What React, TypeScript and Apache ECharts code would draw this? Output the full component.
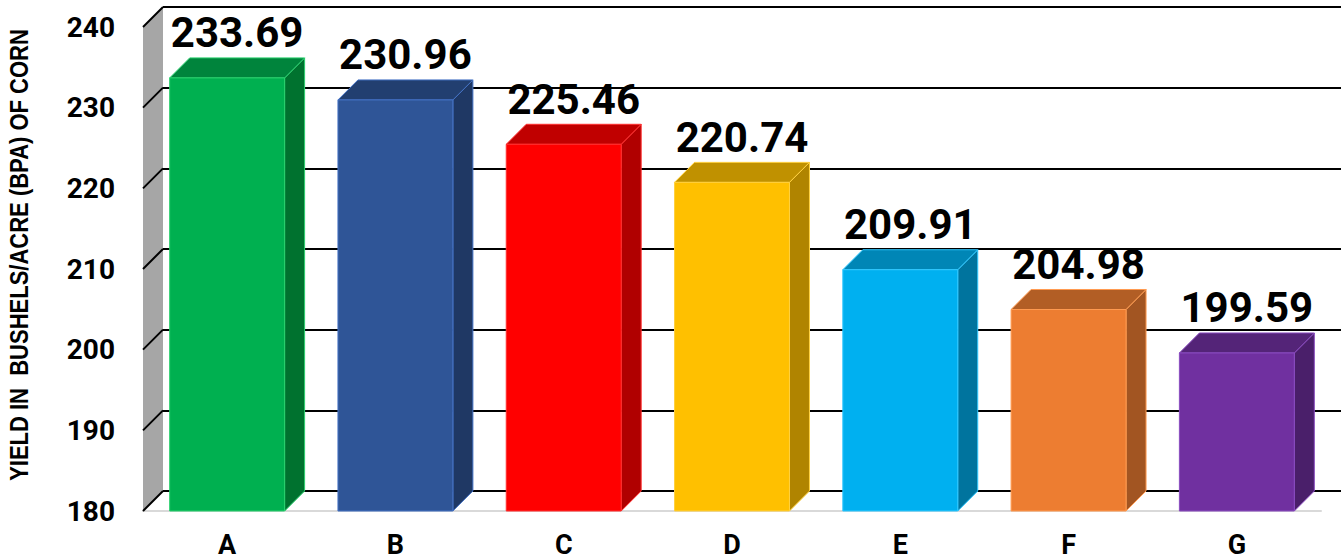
import React, { useEffect, useRef } from "react";
import * as echarts from "echarts";

const categories = ["A", "B", "C", "D", "E", "F", "G"];
const yields = [233.69, 230.96, 225.46, 220.74, 209.91, 204.98, 199.59];
const yTicks = [180, 190, 200, 210, 220, 230, 240];
const frontColors = ["#00B050", "#2F5597", "#FF0000", "#FFC000", "#00B0F0", "#ED7D31", "#7030A0"];
const topColors = ["#00843C", "#223F70", "#C00000", "#C09100", "#0086B6", "#B25E25", "#542478"];
const sideColors = ["#00722F", "#1F3864", "#B00000", "#B08400", "#00749E", "#A25522", "#4A1F6A"];
const edgeColors = ["#2BD06F", "#4472C4", "#FF3030", "#FFD040", "#30C8FF", "#FF9A50", "#8A4CC0"];
const axisTitle = "YIELD IN  BUSHELS/ACRE (BPA) OF CORN";

const Y_MIN = 180;
const Y_MAX = 240;
const DEPTH = 20;

export default function App() {
  const ref = useRef<HTMLDivElement>(null);

  useEffect(() => {
    if (!ref.current) return;
    const chart = echarts.init(ref.current, null, { renderer: "svg" });

    const option: any = {
      animation: false,
      backgroundColor: "#ffffff",
      grid: [
        { left: 143, right: 20, top: 27, bottom: 49 },
        { left: 143 + DEPTH, right: 0, top: 27 - DEPTH, bottom: 49 + DEPTH },
      ],
      xAxis: [
        {
          type: "category",
          gridIndex: 0,
          data: categories,
          axisTick: { show: false },
          axisLine: { show: true, lineStyle: { color: "#D9D9D9", width: 2 } },
          axisLabel: {
            margin: 20,
            color: "#000",
            fontFamily: "Roboto",
            fontWeight: "bold",
            fontSize: 27,
          },
          z: 1,
        },
        {
          type: "category",
          gridIndex: 1,
          data: categories,
          show: false,
        },
      ],
      yAxis: [
        {
          type: "value",
          gridIndex: 0,
          min: Y_MIN,
          max: Y_MAX,
          interval: 10,
          axisLine: { show: false },
          axisTick: { show: false },
          splitLine: { show: false },
          axisLabel: {
            margin: 28,
            color: "#000",
            fontFamily: "Roboto",
            fontWeight: "bold",
            fontSize: 28,
          },
        },
        {
          type: "value",
          gridIndex: 1,
          min: Y_MIN,
          max: Y_MAX,
          interval: 10,
          axisLine: { show: false },
          axisTick: { show: false },
          axisLabel: { show: false },
          splitLine: { show: true, lineStyle: { color: "#000", width: 2 } },
        },
      ],
      graphic: [
        {
          type: "text",
          x: 20,
          y: 255,
          rotation: Math.PI / 2,
          scaleY: 1.13,
          style: {
            text: axisTitle,
            align: "center",
            verticalAlign: "middle",
            fill: "#000",
            fontFamily: "Liberation Sans",
            fontWeight: "bold",
            fontSize: 22,
          },
        },
      ],
      series: [
        {
          type: "custom",
          xAxisIndex: 0,
          yAxisIndex: 0,
          z: 1,
          silent: true,
          data: [[0, Y_MAX]],
          renderItem: (params: any, api: any) => {
            const cs = params.coordSys;
            const top = api.coord([0, Y_MAX])[1];
            const bottom = api.coord([0, Y_MIN])[1];
            const x0 = cs.x;
            return {
              type: "polygon",
              shape: {
                points: [
                  [x0, top],
                  [x0 + DEPTH, top - DEPTH],
                  [x0 + DEPTH, bottom - DEPTH],
                  [x0, bottom],
                ],
              },
              style: { fill: "#A6A6A6", stroke: "none" },
            };
          },
        },
        {
          type: "custom",
          xAxisIndex: 0,
          yAxisIndex: 0,
          z: 2,
          silent: true,
          data: yTicks.map((t) => [0, t]),
          renderItem: (params: any, api: any) => {
            const cs = params.coordSys;
            const y = api.coord([0, api.value(1)])[1];
            return {
              type: "line",
              shape: { x1: cs.x, y1: y, x2: cs.x + DEPTH, y2: y - DEPTH },
              style: { stroke: "#000", lineWidth: 2 },
            };
          },
        },
        {
          type: "custom",
          xAxisIndex: 0,
          yAxisIndex: 0,
          z: 3,
          silent: true,
          data: yields.map((v, i) => [i, v]),
          renderItem: (params: any, api: any) => {
            const i = params.dataIndex;
            const v = api.value(1);
            const p = api.coord([api.value(0), v]);
            const base = api.coord([api.value(0), Y_MIN])[1];
            const band = api.size([1, 0])[0];
            const w = band * 0.683;
            const cx = p[0];
            const ty = p[1];
            const xl = cx - w / 2;
            const xr = cx + w / 2;
            const d = DEPTH;
            return {
              type: "group",
              children: [
                {
                  type: "polygon",
                  shape: {
                    points: [
                      [xr, ty],
                      [xr + d, ty - d],
                      [xr + d, base - d],
                      [xr, base],
                    ],
                  },
                  style: { fill: sideColors[i], stroke: edgeColors[i], lineWidth: 1 },
                },
                {
                  type: "polygon",
                  shape: {
                    points: [
                      [xl, ty],
                      [xl + d, ty - d],
                      [xr + d, ty - d],
                      [xr, ty],
                    ],
                  },
                  style: { fill: topColors[i], stroke: edgeColors[i], lineWidth: 1 },
                },
                {
                  type: "rect",
                  shape: { x: xl, y: ty, width: w, height: base - ty },
                  style: { fill: frontColors[i], stroke: edgeColors[i], lineWidth: 1 },
                },
                {
                  type: "text",
                  style: {
                    text: v.toFixed(2),
                    x: cx + d / 2,
                    y: ty - d - 25,
                    align: "center",
                    verticalAlign: "middle",
                    fill: "#000",
                    fontFamily: "Roboto",
                    fontWeight: "bold",
                    fontSize: 42,
                  },
                },
              ],
            };
          },
        },
      ],
    };

    chart.setOption(option);
    return () => chart.dispose();
  }, []);

  return (
    <div
      ref={ref}
      style={{ position: "fixed", left: 0, top: 0, width: 1341, height: 560, background: "#fff" }}
    />
  );
}
